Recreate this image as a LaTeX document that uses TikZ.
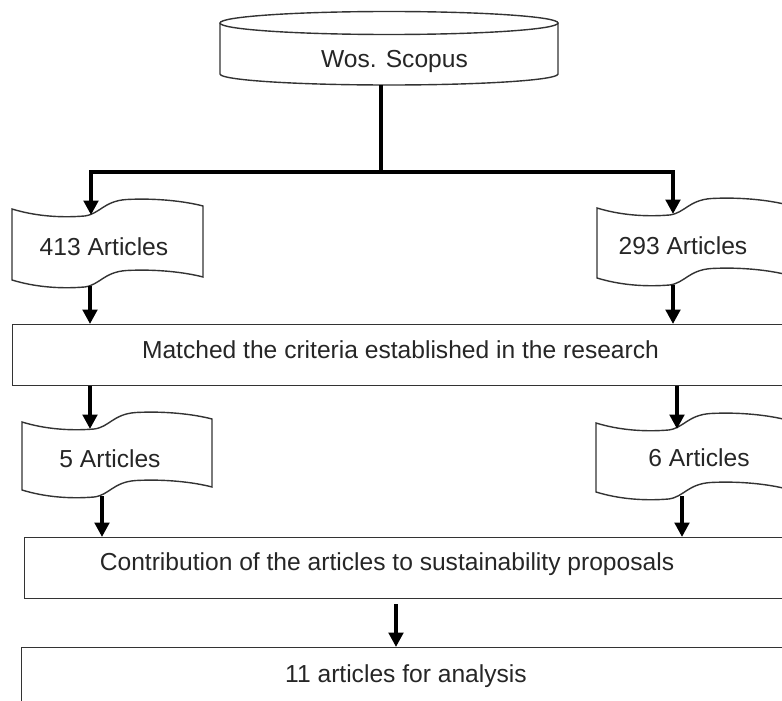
\documentclass[tikz,border=0pt]{standalone}
\usepackage{fontspec}
\setmainfont{Liberation Sans}
\usetikzlibrary{arrows.meta,calc}
\definecolor{txt}{HTML}{262626}
\definecolor{edge}{HTML}{333333}
\tikzset{
  lbl/.style={anchor=base, inner sep=0pt, font=\fontsize{24.6}{29}\selectfont, text=txt},
  outline/.style={draw=edge, line width=1.4pt},
  boxnode/.style={outline, anchor=north west, inner sep=0pt, minimum width=800pt},
  arr/.style={line width=3.6pt, draw=black, -{Triangle[length=14.5pt,width=14.5pt]}},
  bar/.style={line width=3.6pt, draw=black},
}
% wavy document shape: #1 x, #2 y of top-left corner (y downward), #3 width, #4 height
\newcommand\wavedoc[4]{%
  \begin{scope}[shift={(#1,-#2)}, x=#3pt, y=-1pt]
    \draw[outline, fill=white] (0,0)
      .. controls (0.12,7) and (0.25,9) .. (0.38,7)
      .. controls (0.46,5) and (0.48,-8) .. (0.6,-9.5)
      .. controls (0.75,-11) and (0.9,-8) .. (1,-3)
      -- (1,{#4-3})
      .. controls (0.9,{#4-8}) and (0.75,{#4-11}) .. (0.6,{#4-9.5})
      .. controls (0.48,{#4-8}) and (0.46,{#4+5}) .. (0.38,{#4+7})
      .. controls (0.25,{#4+9}) and (0.12,{#4+7}) .. (0,#4) -- cycle;
  \end{scope}}
\begin{document}
\begin{tikzpicture}[x=1pt,y=1pt]
\useasboundingbox (0,0) rectangle (782,-701);

% database cylinder
\draw[outline, fill=white] (220,-23) -- (220,-74)
  arc[start angle=180, end angle=360, x radius=169, y radius=11] -- (558,-23);
\draw[outline] (389,-23) ellipse [x radius=169, y radius=11.5];
\node[lbl] (cyl) at (394.5,-68) {Wos. Scopus};
\coordinate (cylb) at (381,-85);
\coordinate (j) at (381,-172);

% first documents
\wavedoc{12}{209}{191}{71}
\node[lbl] (d1) at (104,-255) {413 Articles};
\coordinate (d1in) at (91,-215);
\coordinate (d1out) at (90,-286);

\wavedoc{597}{208}{191}{70}
\node[lbl] (d2) at (683,-254) {293 Articles};
\coordinate (d2in) at (673,-214);
\coordinate (d2out) at (673,-285);

% criteria box
\node[boxnode, minimum height=61pt] (m) at (12,-324) {};
\node[lbl] (mt) at (400.5,-358) {Matched the criteria established in the research};

% second documents
\wavedoc{22}{422}{190}{68}
\node[lbl] (d3) at (110,-467) {5 Articles};
\coordinate (d3in) at (90,-429);
\coordinate (d3out) at (102,-496);

\wavedoc{596}{423}{191}{69}
\node[lbl] (d4) at (699,-466) {6 Articles};
\coordinate (d4in) at (677,-429);
\coordinate (d4out) at (682,-496);

% contribution box
\node[boxnode, minimum height=61pt] (c) at (24,-537) {};
\node[lbl] (ct) at (387,-570) {Contribution of the articles to sustainability proposals};
\coordinate (cgap) at (396,-604);

% final box
\node[boxnode, minimum height=100pt] (f) at (21,-647) {};
\node[lbl] (ft) at (406,-682) {11 articles for analysis};

% connectors
\draw[bar] (cylb) -- (j);
\draw[arr] (j) -| (d1in);
\draw[arr] (j) -| (d2in);
\draw[arr] (d1out) -- (d1out |- m.north);
\draw[arr] (d2out) -- (d2out |- m.north);
\draw[arr] (d3in |- m.south) -- (d3in);
\draw[arr] (d4in |- m.south) -- (d4in);
\draw[arr] (d3out) -- (d3out |- c.north);
\draw[arr] (d4out) -- (d4out |- c.north);
\draw[arr] (cgap) -- (cgap |- f.north);
\end{tikzpicture}
\end{document}
